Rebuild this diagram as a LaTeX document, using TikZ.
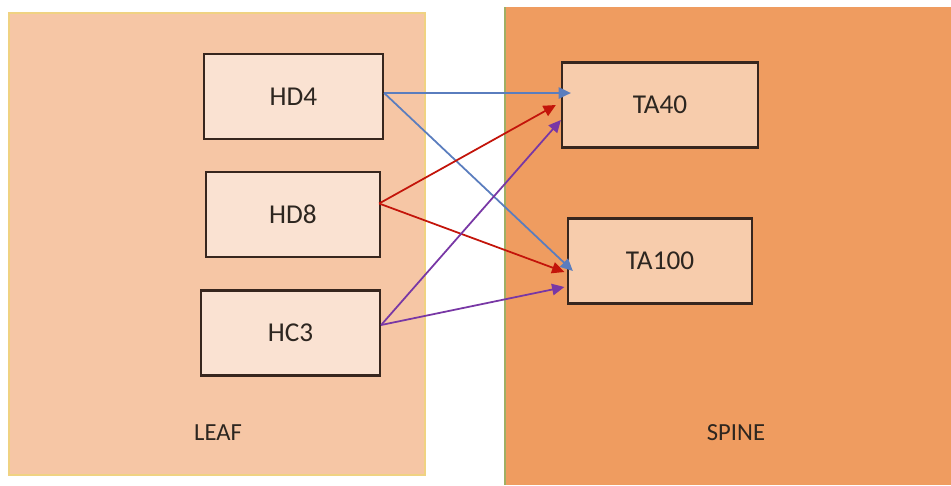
\documentclass[tikz,border=0pt]{standalone}
\usepackage{fontspec}
\setmainfont{Carlito}
\usetikzlibrary{arrows.meta}
\definecolor{leaffill}{RGB}{246,198,165}
\definecolor{leafline}{RGB}{240,210,130}
\definecolor{spinefill}{RGB}{239,156,96}
\definecolor{spineline}{RGB}{160,175,100}
\definecolor{hostfill}{RGB}{250,226,210}
\definecolor{aggfill}{RGB}{247,204,172}
\definecolor{boxline}{RGB}{55,38,30}
\definecolor{txt}{RGB}{45,38,32}
\definecolor{lblue}{RGB}{90,125,190}
\definecolor{lred}{RGB}{195,20,10}
\definecolor{lpurple}{RGB}{120,55,165}

\begin{document}
\begin{tikzpicture}[x=0.02cm, y=-0.02cm,
    box/.style={draw=boxline, line width=1.3pt, inner sep=0pt, minimum height=1.7cm, text=txt, font=\fontsize{15.5}{18}\selectfont},
    host/.style={box, fill=hostfill},
    agg/.style={box, fill=aggfill},
    zone/.style={text=txt, font=\fontsize{14}{17}\selectfont},
    link/.style={-{Triangle[length=7pt,width=6.5pt]}, line width=1pt}
]
\useasboundingbox (0,0) rectangle (951,485);
% ---------------- zones ----------------
\fill[white] (0,0) rectangle (951,485);
\draw[fill=leaffill, draw=leafline, line width=1.2pt] (9,13) rectangle (425,475);
\fill[spinefill] (505,7) rectangle (951,485);
\draw[spineline, line width=0.8pt] (505,7) -- (505,485);
\node[zone] (leaf)  at (218,433) {LEAF};
\node[zone] (spine) at (736,433) {SPINE};
% ---------------- leaf switches ----------------
\node[host, minimum width=3.58cm] (hd4) at (293.5,96.5) {HD4};
\node[host, minimum width=3.48cm] (hd8) at (293,214.5)  {HD8};
\node[host, minimum width=3.58cm] (hc3) at (290.5,333)  {HC3};
% ---------------- spine switches ----------------
\node[agg, minimum width=3.92cm] (ta40)  at (660,105) {TA40};
\node[agg, minimum width=3.68cm] (ta100) at (660,261) {TA100};
% ---------------- links ----------------
\draw[link, lblue] ([yshift=0.07cm]hd4.east) -- ([xshift=0.2cm, yshift=0.24cm]ta40.west);
\draw[link, lblue] ([yshift=0.07cm]hd4.east) -- ([xshift=0.12cm, yshift=-0.2cm]ta100.west);
\draw[link, lred] ([xshift=-0.04cm, yshift=0.22cm]hd8.east) -- ([xshift=-0.1cm]ta40.west);
\draw[link, lred] ([xshift=-0.04cm, yshift=0.22cm]hd8.east) -- ([xshift=-0.05cm, yshift=-0.22cm]ta100.west);
\draw[link, lpurple] ([yshift=0.16cm]hc3.east) -- ([yshift=-0.3cm]ta40.west);
\draw[link, lpurple] ([yshift=0.16cm]hc3.east) -- ([xshift=-0.05cm, yshift=-0.52cm]ta100.west);
\end{tikzpicture}
\end{document}
